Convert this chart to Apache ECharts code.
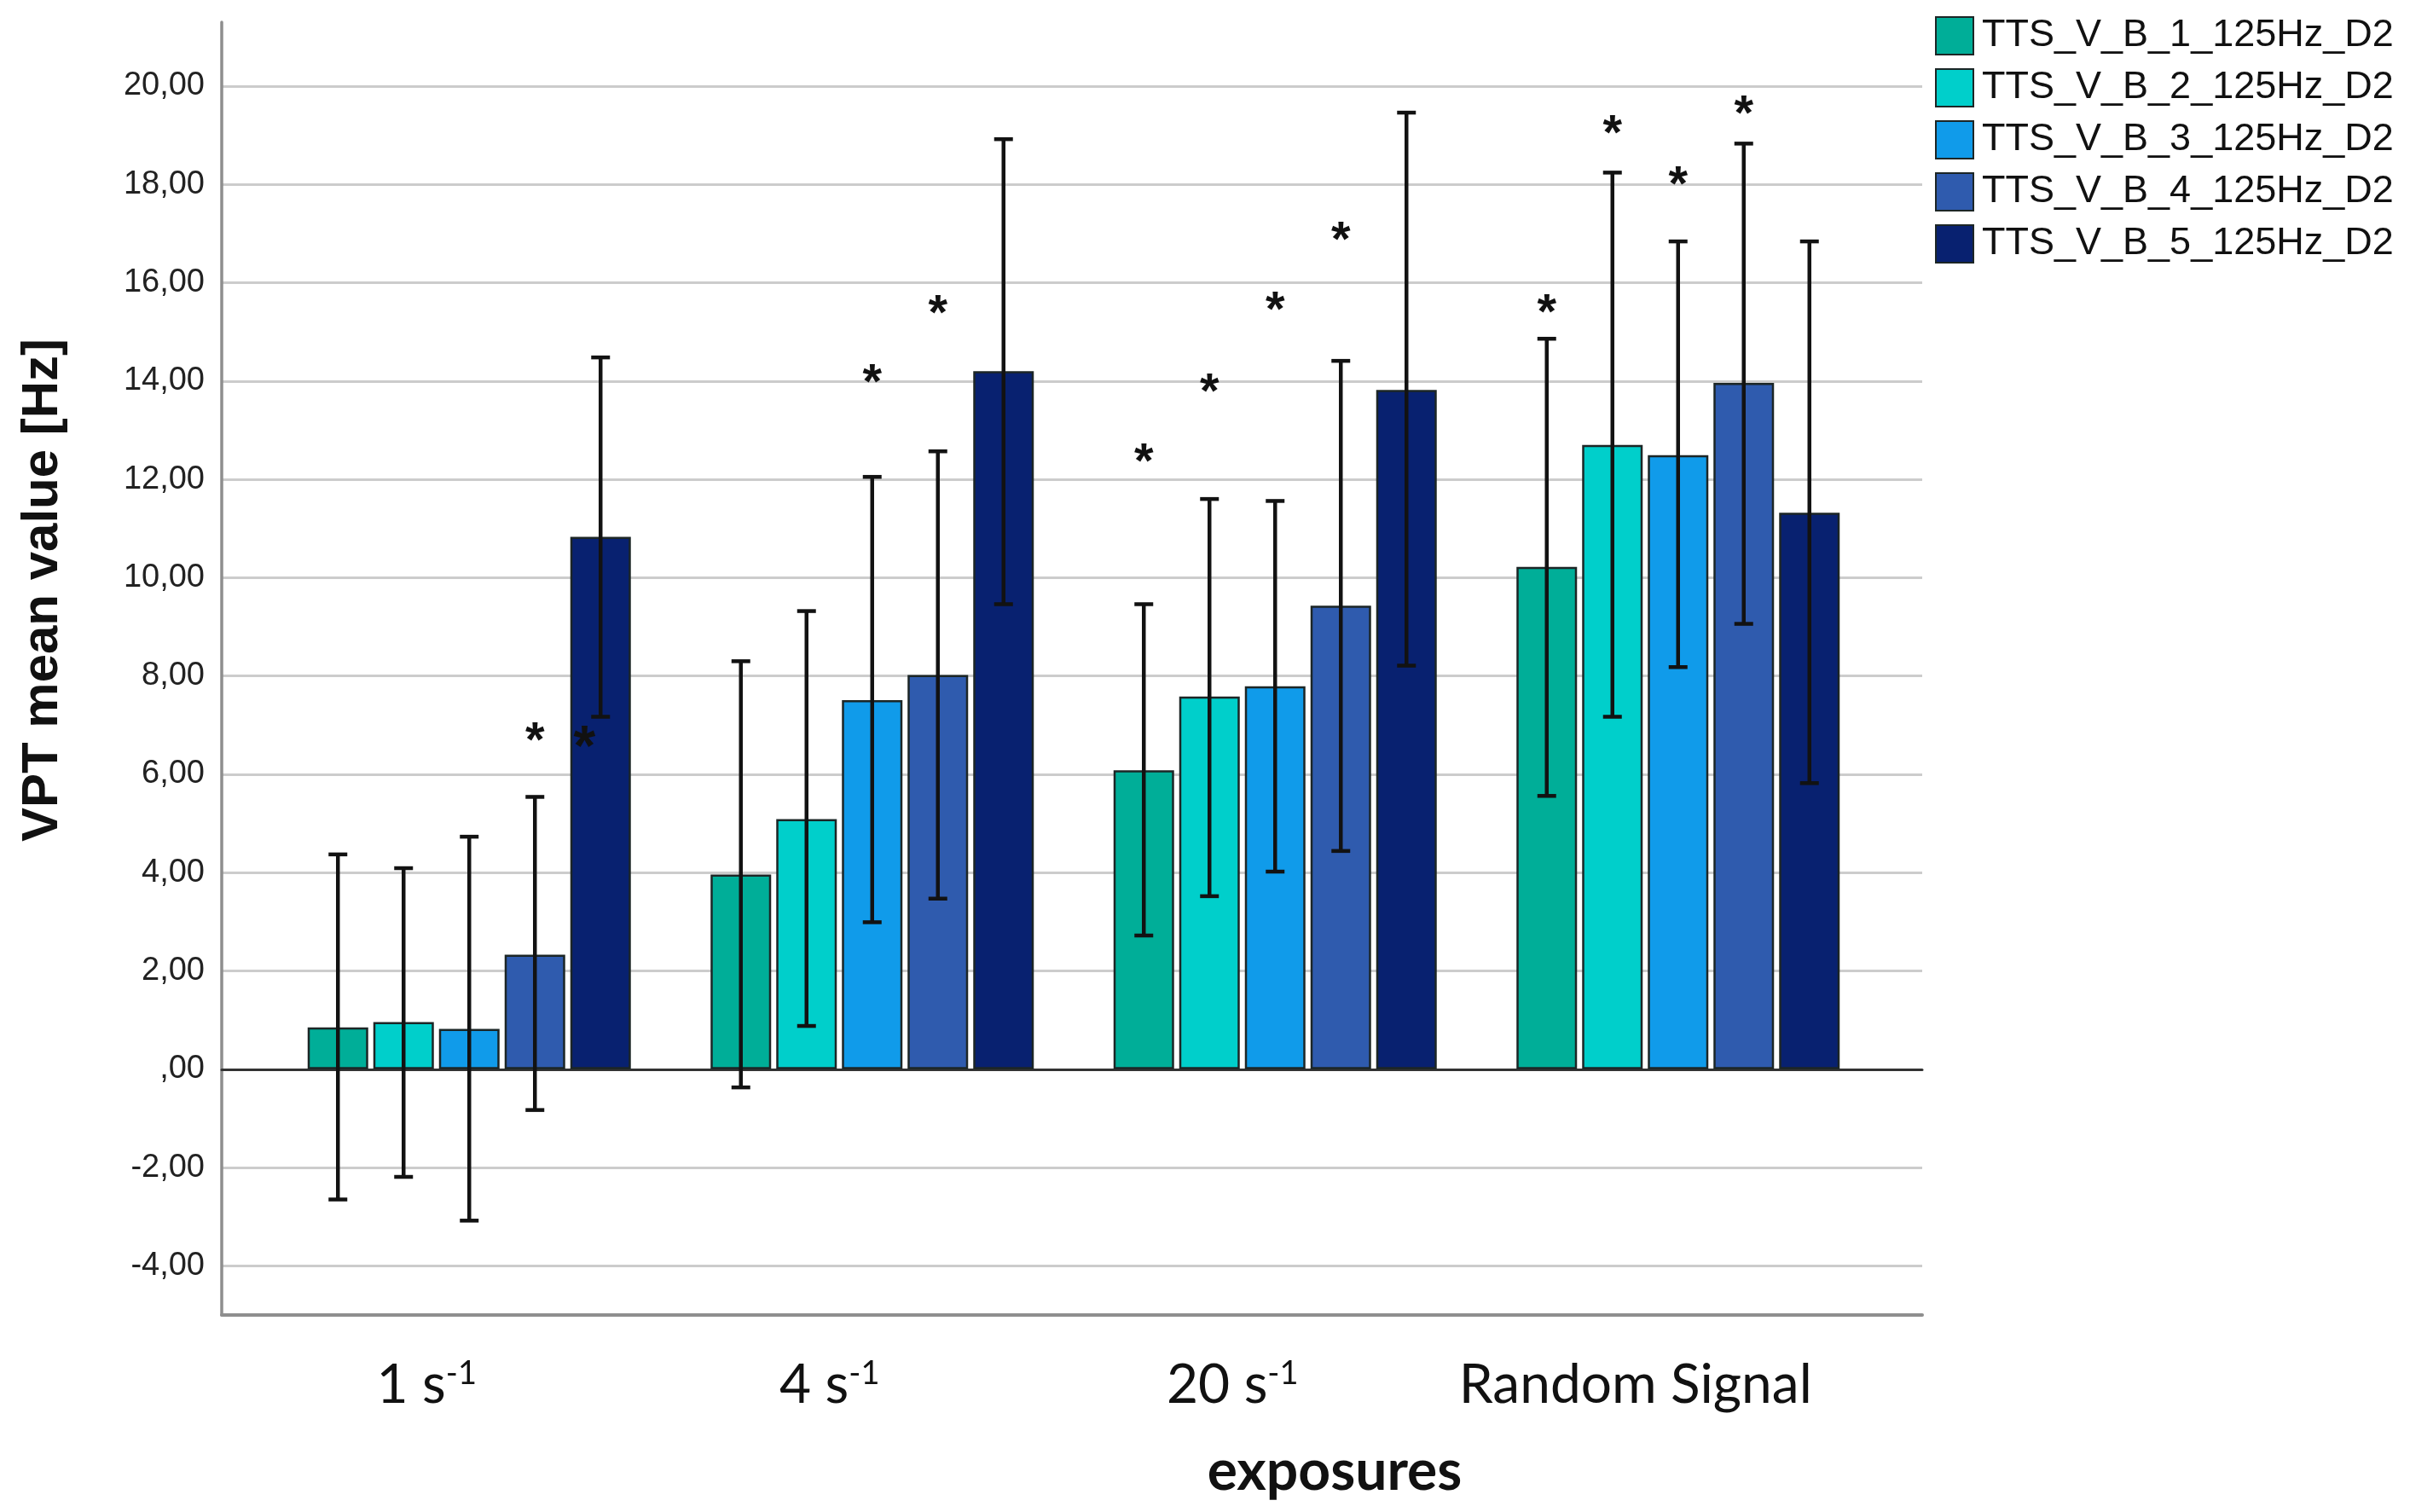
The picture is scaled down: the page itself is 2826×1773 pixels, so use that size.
<!DOCTYPE html>
<html>
<head>
<meta charset="utf-8">
<script src="https://cdn.jsdelivr.net/npm/echarts@6/dist/echarts.min.js"></script>
<style>
html,body{margin:0;padding:0;background:#fff;}
#chart{width:2826px;height:1773px;}
</style>
</head>
<body>
<div id="chart"></div>
<script>
// ---------------- data ----------------
const categories = ['1 s-1', '4 s-1', '20 s-1', 'Random Signal'];
const seriesNames = ['TTS_V_B_1_125Hz_D2', 'TTS_V_B_2_125Hz_D2', 'TTS_V_B_3_125Hz_D2', 'TTS_V_B_4_125Hz_D2', 'TTS_V_B_5_125Hz_D2'];

const mean1 = [0.85, 3.96, 6.08, 10.22];
const mean2 = [0.96, 5.09, 7.58, 12.70];
const mean3 = [0.82, 7.51, 7.79, 12.49];
const mean4 = [2.33, 8.02, 9.43, 13.96];
const mean5 = [10.83, 14.20, 13.82, 11.32];

const upper1 = [4.37, 8.30, 9.46, 14.86];
const upper2 = [4.09, 9.32, 11.60, 18.24];
const upper3 = [4.73, 12.05, 11.56, 16.84];
const upper4 = [5.54, 12.57, 14.41, 18.83];
const upper5 = [14.48, 18.92, 19.46, 16.84];

const lower1 = [-2.65, -0.37, 2.72, 5.56];
const lower2 = [-2.19, 0.88, 3.52, 7.17];
const lower3 = [-3.08, 2.99, 4.02, 8.18];
const lower4 = [-0.83, 3.47, 4.44, 9.06];
const lower5 = [7.17, 9.46, 8.21, 5.82];

// asterisk (significance marker) heights, null = none
const star1 = [null, null, 12.56, 15.60];
const star2 = [null, null, 13.98, 19.23];
const star3 = [null, 14.17, 15.64, 18.19];
const star4 = [6.89, 15.58, 17.07, 19.63];
const star5 = [6.74, null, null, null];

const yTickValues = [-4, -2, 0, 2, 4, 6, 8, 10, 12, 14, 16, 18, 20];

// ---------------- build ----------------
const means = [mean1, mean2, mean3, mean4, mean5];
const uppers = [upper1, upper2, upper3, upper4, upper5];
const lowers = [lower1, lower2, lower3, lower4, lower5];
const stars = [star1, star2, star3, star4, star5];
const colors = ['#00AE98', '#00CFCB', '#109BEA', '#2F5BAE', '#082170'];

const BAR_W = 71, BAR_GAP = 6;
const N = 5;
function barOffset(i) {
  const total = N * BAR_W + (N - 1) * BAR_GAP;
  return -total / 2 + BAR_W / 2 + i * (BAR_W + BAR_GAP);
}

const Y_MIN = -5, Y_MAX = 21.3;

function yLabel(v) {
  if (yTickValues.indexOf(v) < 0) return '';
  if (v === 0) return ',00';
  return v.toFixed(2).replace('.', ',');
}

const series = [];
for (let i = 0; i < N; i++) {
  series.push({
    name: seriesNames[i],
    type: 'bar',
    xAxisIndex: 2, yAxisIndex: 1,
    barWidth: BAR_W,
    barGap: (BAR_GAP / BAR_W * 100).toFixed(2) + '%',
    itemStyle: { color: colors[i], borderColor: '#1c2626', borderWidth: 2.5 },
    data: means[i],
    z: 2
  });
}
for (let i = 0; i < N; i++) {
  const data = categories.map((c, k) => [k, lowers[i][k], uppers[i][k]]);
  series.push({
    type: 'custom',
    xAxisIndex: 2, yAxisIndex: 1,
    z: 5,
    silent: true,
    data: data,
    renderItem: function (params, api) {
      const k = api.value(0);
      const lo = api.coord([k, api.value(1)]);
      const hi = api.coord([k, api.value(2)]);
      const x = lo[0] + barOffset(i);
      const cap = 11;
      const st = { stroke: '#121212', lineWidth: 4.5 };
      return {
        type: 'group',
        children: [
          { type: 'line', shape: { x1: x, y1: lo[1], x2: x, y2: hi[1] }, style: st },
          { type: 'line', shape: { x1: x - cap, y1: lo[1], x2: x + cap, y2: lo[1] }, style: st },
          { type: 'line', shape: { x1: x - cap, y1: hi[1], x2: x + cap, y2: hi[1] }, style: st }
        ]
      };
    }
  });
}
for (let i = 0; i < N; i++) {
  const data = [];
  categories.forEach((c, k) => { if (stars[i][k] != null) data.push([k, stars[i][k]]); });
  series.push({
    type: 'custom',
    xAxisIndex: 2, yAxisIndex: 1,
    z: 6,
    silent: true,
    data: data,
    renderItem: function (params, api) {
      const k = api.value(0);
      const p = api.coord([k, api.value(1)]);
      // the marker of the last bar in the first group sits at that bar's left edge
      const shift = (i === N - 1) ? -19 : 0;
      return {
        type: 'text',
        x: p[0] + barOffset(i) + shift,
        y: p[1] + 14,
        style: {
          text: '*',
          fontFamily: 'Liberation Sans',
          fontWeight: 'bold',
          fontSize: (i === N - 1) ? 66 : 58,
          fill: '#111',
          textAlign: 'center',
          textVerticalAlign: 'middle'
        }
      };
    }
  });
}

const chart = echarts.init(document.getElementById('chart'), null, { renderer: 'canvas' });
const gridTop = 26, gridBottom = 231;
chart.setOption({
  animation: false,
  backgroundColor: '#ffffff',
  grid: [
    { left: 260, right: 572, top: gridTop, bottom: gridBottom, containLabel: false },
    { left: 314, right: 622, top: gridTop, bottom: gridBottom, containLabel: false }
  ],
  legend: {
    orient: 'vertical',
    left: 2264, top: 14,
    icon: 'rect',
    itemWidth: 44, itemHeight: 44, itemGap: 15,
    data: seriesNames,
    textStyle: { fontFamily: 'Liberation Sans', fontSize: 45, color: '#111', padding: [0, 0, 0, 5] }
  },
  xAxis: [
    { // frame bottom line
      type: 'value', gridIndex: 0, min: 0, max: 1, position: 'bottom',
      axisLine: { show: true, onZero: false, lineStyle: { color: '#8e8e8e', width: 4 } },
      axisTick: { show: false }, axisLabel: { show: false }, splitLine: { show: false }
    },
    { // zero line
      type: 'value', gridIndex: 0, min: 0, max: 1, position: 'top',
      axisLine: { show: true, onZero: true, lineStyle: { color: '#333333', width: 3 } },
      axisTick: { show: false }, axisLabel: { show: false }, splitLine: { show: false }
    },
    { // categories
      type: 'category', gridIndex: 1, data: categories, position: 'bottom',
      axisLine: { show: false, onZero: false }, axisTick: { show: false },
      axisLabel: {
        interval: 0,
        hideOverlap: false,
        margin: 50,
        padding: [0, 100, 0, 0],
        fontFamily: 'Lato',
        fontSize: 64,
        color: '#111',
        formatter: function (v) { return v.replace(/s-1$/, 's{sup|-1}'); },
        rich: {
          sup: { fontFamily: 'Lato', fontSize: 38, color: '#111', verticalAlign: 'top', padding: [0, 0, 26, 0] }
        }
      }
    }
  ],
  yAxis: [
    {
      type: 'value', gridIndex: 0, min: Y_MIN, max: Y_MAX, interval: 1,
      axisLine: { show: true, lineStyle: { color: '#8e8e8e', width: 3.5 } },
      axisTick: { show: false },
      axisLabel: {
        margin: 20, fontFamily: 'Liberation Sans', fontSize: 38, color: '#222',
        formatter: yLabel, showMaxLabel: true
      },
      splitLine: { show: true, showMaxLine: false, lineStyle: { color: ['rgba(0,0,0,0)', '#cccccc'], width: 3 } }
    },
    {
      type: 'value', gridIndex: 1, min: Y_MIN, max: Y_MAX,
      show: false, splitLine: { show: false }
    }
  ],
  graphic: [
    {
      type: 'text', x: 50, y: 692, rotation: Math.PI / 2,
      style: { text: 'VPT mean value [Hz]', fontFamily: 'Liberation Sans', fontWeight: 'bold', fontSize: 60, fill: '#111', textAlign: 'center', textVerticalAlign: 'middle' }
    },
    {
      type: 'text', x: 1565, y: 1726,
      style: { text: 'exposures', fontFamily: 'Lato', fontWeight: 'bold', fontSize: 66, fill: '#111', textAlign: 'center', textVerticalAlign: 'middle' }
    }
  ],
  series: series
});
</script>
</body>
</html>
